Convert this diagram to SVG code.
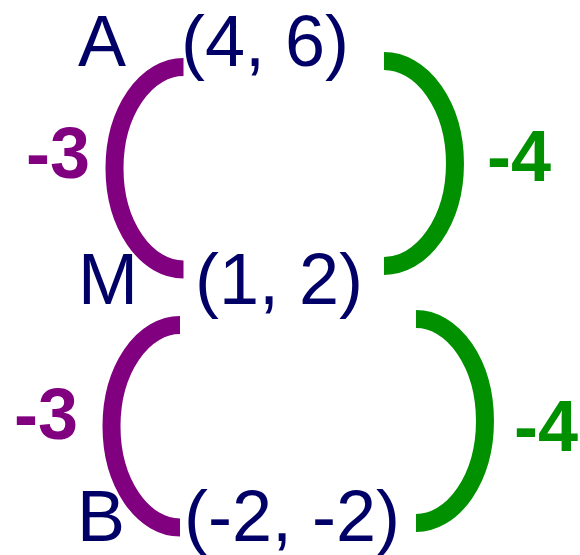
<svg xmlns="http://www.w3.org/2000/svg" width="580" height="555" viewBox="0 0 580 555">
<style>
.pt{font-family:"Liberation Sans",Arial,sans-serif;font-size:72px;fill:#000066}
.lb{font-family:"Liberation Sans",Arial,sans-serif;font-size:72px;font-weight:bold}
.p{fill:#800080}
.g{fill:#009000}
.arc{fill:none;stroke-width:18}
.ap{stroke:#800080}
.ag{stroke:#009000}
</style>
<rect width="580" height="555" fill="#ffffff"/>
<g id="connectors">
<path class="arc ap" d="M183.5,67 A69,101.25 0 0 0 183.5,269.5"/>
<path class="arc ag" d="M384,61 A71,102.5 0 0 1 384,266"/>
<path class="arc ap" d="M180,325 A68.5,101.25 0 0 0 180,527.5"/>
<path class="arc ag" d="M416,319 A69,102 0 0 1 416,523"/>
<text class="lb p" x="26" y="178">-3</text>
<text class="lb g" x="487" y="181">-4</text>
<text class="lb p" x="14" y="439">-3</text>
<text class="lb g" x="514" y="451">-4</text>
</g>
<g id="A"><text class="pt" x="78" y="66">A</text><text class="pt" x="181" y="66">(4, 6)</text></g>
<g id="M"><text class="pt" x="78" y="304">M</text><text class="pt" x="195" y="304">(1, 2)</text></g>
<g id="B"><text class="pt" x="77" y="541">B</text><text class="pt" x="184" y="541">(-2, -2)</text></g>
</svg>
